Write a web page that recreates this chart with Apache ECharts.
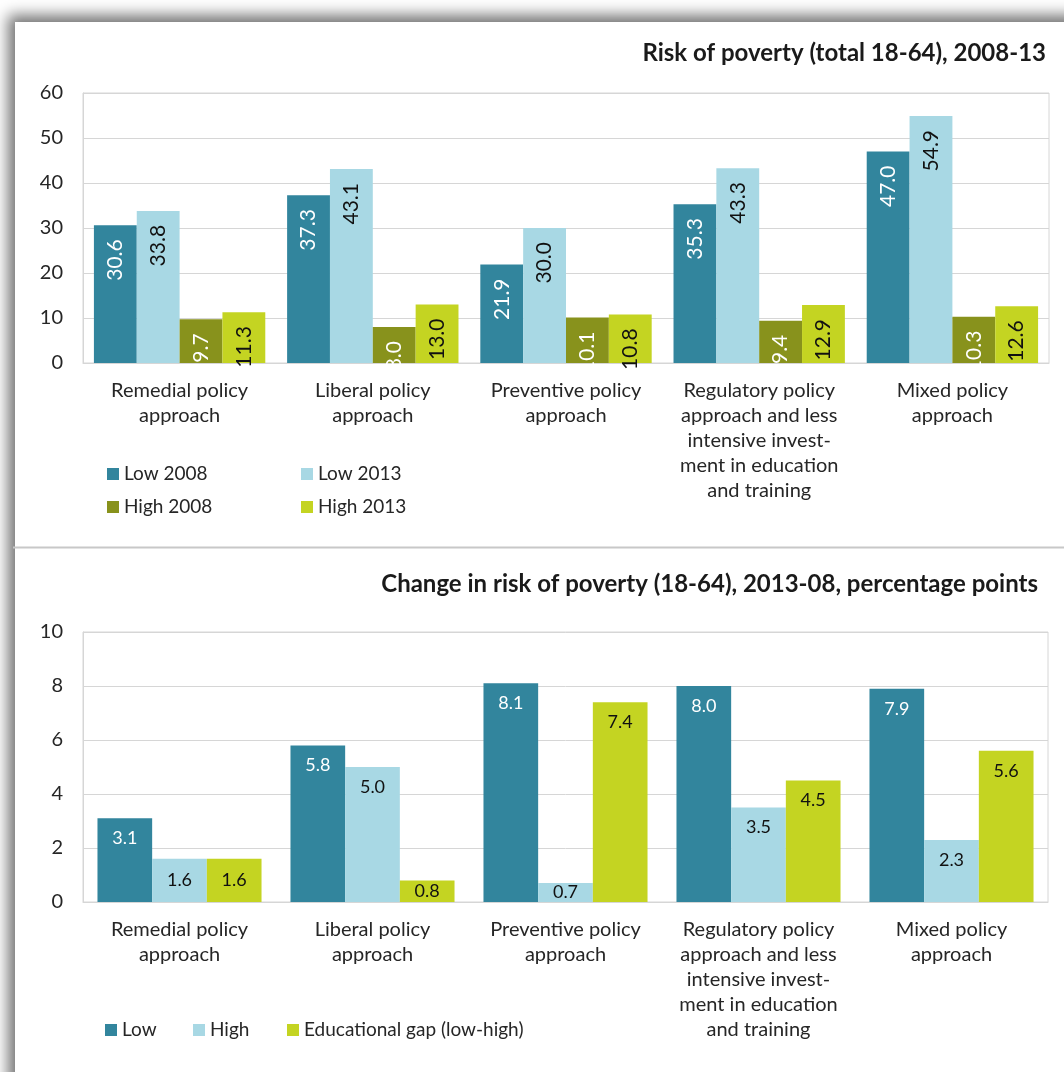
<!DOCTYPE html>
<html>
<head>
<meta charset="utf-8">
<script src="https://cdn.jsdelivr.net/npm/echarts@6/dist/echarts.min.js"></script>
<style>
  html, body { margin: 0; padding: 0; background: #ffffff; overflow: hidden; }
  #panel { position: absolute; left: 15px; top: 22px; width: 1120px; height: 1120px; background: #fff;
           box-shadow: -3px -3px 14px 4px rgba(0,0,0,0.55); }
  #chart { position: absolute; left: 0; top: 0; width: 1064px; height: 1072px; }
</style>
</head>
<body>
<div id="panel"></div>
<div id="chart"></div>
<script>
// ---- data ----
const categories = [
  "Remedial policy\napproach",
  "Liberal policy\napproach",
  "Preventive policy\napproach",
  "Regulatory policy\napproach and less\nintensive invest-\nment in education\nand training",
  "Mixed policy\napproach"
];
const low2008  = [30.6, 37.3, 21.9, 35.3, 47.0];
const low2013  = [33.8, 43.1, 30.0, 43.3, 54.9];
const high2008 = [9.7, 8.0, 10.1, 9.4, 10.3];
const high2013 = [11.3, 13.0, 10.8, 12.9, 12.6];

const changeLow  = [3.1, 5.8, 8.1, 8.0, 7.9];
const changeHigh = [1.6, 5.0, 0.7, 3.5, 2.3];
const changeGap  = [1.6, 0.8, 7.4, 4.5, 5.6];

const topTitle = "Risk of poverty (total 18-64), 2008-13";
const bottomTitle = "Change in risk of poverty (18-64), 2013-08, percentage points";
const topAxis = { min: 0, max: 60, interval: 10 };
const bottomAxis = { min: 0, max: 10, interval: 2 };

// ---- styles ----
const FONT = "Lato";
const C_TEAL = "#32859d";
const C_LBLUE = "#a8d8e4";
const C_OLIVE = "#88921c";
const C_LIME = "#c4d422";
const TXT = "#262626";
const GRIDC = "#d6d6d6";

const chart = echarts.init(document.getElementById("chart"), null, { renderer: "canvas" });

function topSeries(name, data, color, labelColor) {
  return {
    name: name, type: "bar", xAxisIndex: 0, yAxisIndex: 0,
    data: data, barGap: "0%", barCategoryGap: "11.3%",
    itemStyle: { color: color },
    label: {
      show: true, position: "insideTop", distance: 14, rotate: 90,
      align: "right", verticalAlign: "middle",
      fontFamily: FONT, fontSize: 21, color: labelColor,
      formatter: p => p.value.toFixed(1)
    }
  };
}
function bottomSeries(name, data, color, labelColor) {
  return {
    name: name, type: "bar", xAxisIndex: 1, yAxisIndex: 1,
    data: data.map(v => ({
      value: v,
      label: v < 2 ? { position: "inside" } : undefined
    })),
    barGap: "0%", barCategoryGap: "15%",
    itemStyle: { color: color },
    label: {
      show: true, position: "insideTop", distance: 11,
      fontFamily: FONT, fontSize: 18, color: labelColor,
      formatter: p => p.value.toFixed(1)
    }
  };
}

function legendItem(name, left, top) {
  return {
    data: [name], left: left, top: top, orient: "horizontal", padding: 0,
    icon: "rect", itemWidth: 12, itemHeight: 12, selectedMode: false,
    textStyle: { fontFamily: FONT, fontSize: 19, color: TXT, lineHeight: 22 }
  };
}

const axisLabelX = {
  interval: 0, fontFamily: FONT, fontSize: 20, color: TXT, lineHeight: 25, margin: 15
};
const axisLabelY = { fontFamily: FONT, fontSize: 20, color: TXT, margin: 20 };

chart.setOption({
  animation: false,
  backgroundColor: "transparent",
  title: [
    { text: topTitle, right: 18, top: 41, padding: 0,
      textStyle: { fontFamily: FONT, fontSize: 24, fontWeight: "bold", color: "#1a1a1a" } },
    { text: bottomTitle, right: 26, top: 572, padding: 0,
      textStyle: { fontFamily: FONT, fontSize: 24, fontWeight: "bold", color: "#1a1a1a" } }
  ],
  legend: [
    legendItem("Low 2008", 107, 463),
    legendItem("Low 2013", 301, 463),
    legendItem("High 2008", 107, 496),
    legendItem("High 2013", 301, 496),
    legendItem("Low", 105, 1019),
    legendItem("High", 193, 1019),
    legendItem("Educational gap (low-high)", 287, 1019)
  ],
  grid: [
    { left: 83, right: 15, top: 93, height: 270, show: true, borderColor: GRIDC, borderWidth: 1, containLabel: false },
    { left: 83, right: 16, top: 632, height: 270, show: true, borderColor: GRIDC, borderWidth: 1, containLabel: false }
  ],
  xAxis: [
    { type: "category", gridIndex: 0, data: categories,
      axisLine: { lineStyle: { color: GRIDC } }, axisTick: { show: false },
      axisLabel: axisLabelX },
    { type: "category", gridIndex: 1, data: categories,
      axisLine: { lineStyle: { color: GRIDC } }, axisTick: { show: false },
      axisLabel: axisLabelX }
  ],
  yAxis: [
    { type: "value", gridIndex: 0, min: topAxis.min, max: topAxis.max, interval: topAxis.interval,
      axisLine: { show: true, lineStyle: { color: GRIDC } }, axisTick: { show: false },
      splitLine: { lineStyle: { color: GRIDC } }, axisLabel: axisLabelY },
    { type: "value", gridIndex: 1, min: bottomAxis.min, max: bottomAxis.max, interval: bottomAxis.interval,
      axisLine: { show: true, lineStyle: { color: GRIDC } }, axisTick: { show: false },
      splitLine: { lineStyle: { color: GRIDC } }, axisLabel: axisLabelY }
  ],
  graphic: [
    { type: "line", shape: { x1: 13, y1: 547.5, x2: 1064, y2: 547.5 },
      style: { stroke: "#c8c8c8", lineWidth: 2 }, silent: true }
  ],
  series: [
    topSeries("Low 2008", low2008, C_TEAL, "#ffffff"),
    topSeries("Low 2013", low2013, C_LBLUE, "#111111"),
    topSeries("High 2008", high2008, C_OLIVE, "#ffffff"),
    topSeries("High 2013", high2013, C_LIME, "#111111"),
    bottomSeries("Low", changeLow, C_TEAL, "#ffffff"),
    bottomSeries("High", changeHigh, C_LBLUE, "#111111"),
    bottomSeries("Educational gap (low-high)", changeGap, C_LIME, "#111111")
  ]
});
</script>
</body>
</html>
